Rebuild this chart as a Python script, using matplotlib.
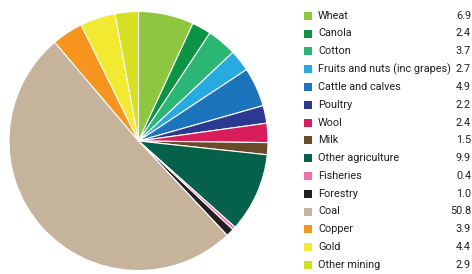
import matplotlib
matplotlib.use("Agg")
import matplotlib.pyplot as plt
from matplotlib.patches import Rectangle

# share of value by commodity
labels = ['Wheat', 'Canola', 'Cotton', 'Fruits and nuts (inc grapes)', 'Cattle and calves',
          'Poultry', 'Wool', 'Milk', 'Other agriculture', 'Fisheries', 'Forestry',
          'Coal', 'Copper', 'Gold', 'Other mining']
values = [6.9, 2.4, 3.7, 2.7, 4.9, 2.2, 2.4, 1.5, 9.9, 0.4, 1.0, 50.8, 3.9, 4.4, 2.9]
colors = ['#8DC63F', '#0B9444', '#2BB673', '#27AAE1', '#1C75BC', '#2B3990', '#D91C5C',
          '#6B4A2A', '#05614A', '#F06EAA', '#231F20', '#C5B49B', '#F7941D', '#F2EA30', '#D7DF23']

W, H = 472, 274
fig = plt.figure(figsize=(W / 100, H / 100), dpi=100)

# pie centre approx (138.5, 141) px from top, radius ~129.5 px
cx, cy, r = 138.5, H - 141, 129.5
ax = fig.add_axes([(cx - r) / W, (cy - r) / H, 2 * r / W, 2 * r / H])
ax.pie(values, colors=colors, startangle=90, counterclock=False,
       wedgeprops=dict(edgecolor='white', linewidth=0.8))
ax.set_xlim(-1, 1)
ax.set_ylim(-1, 1)
ax.set_aspect('equal')
ax.axis('off')

# reference font is condensed; size the labels so the longest one still clears the values
font = 'Roboto'
renderer = fig.canvas.get_renderer()
probe = fig.text(0, 0, max(labels, key=len), fontsize=10, family=font)
wid = probe.get_window_extent(renderer).width
probe.remove()
fs = min(10, 10 * 133 / wid)

y0, step = 15.7, 17.8
for i, (lab, val, c) in enumerate(zip(labels, values, colors)):
    y = H - (y0 + i * step)
    fig.patches.append(Rectangle((303.5 / W, (y - 4) / H), 8 / W, 8 / H,
                                 transform=fig.transFigure, facecolor=c, edgecolor='none'))
    fig.text(318 / W, y / H, lab, fontsize=fs, family=font, color='#231F20',
             va='center', ha='left')
    fig.text(471 / W, y / H, f'{val:.1f}', fontsize=fs, family=font, color='#231F20',
             va='center', ha='right')

fig.savefig('out.png', dpi=100)
